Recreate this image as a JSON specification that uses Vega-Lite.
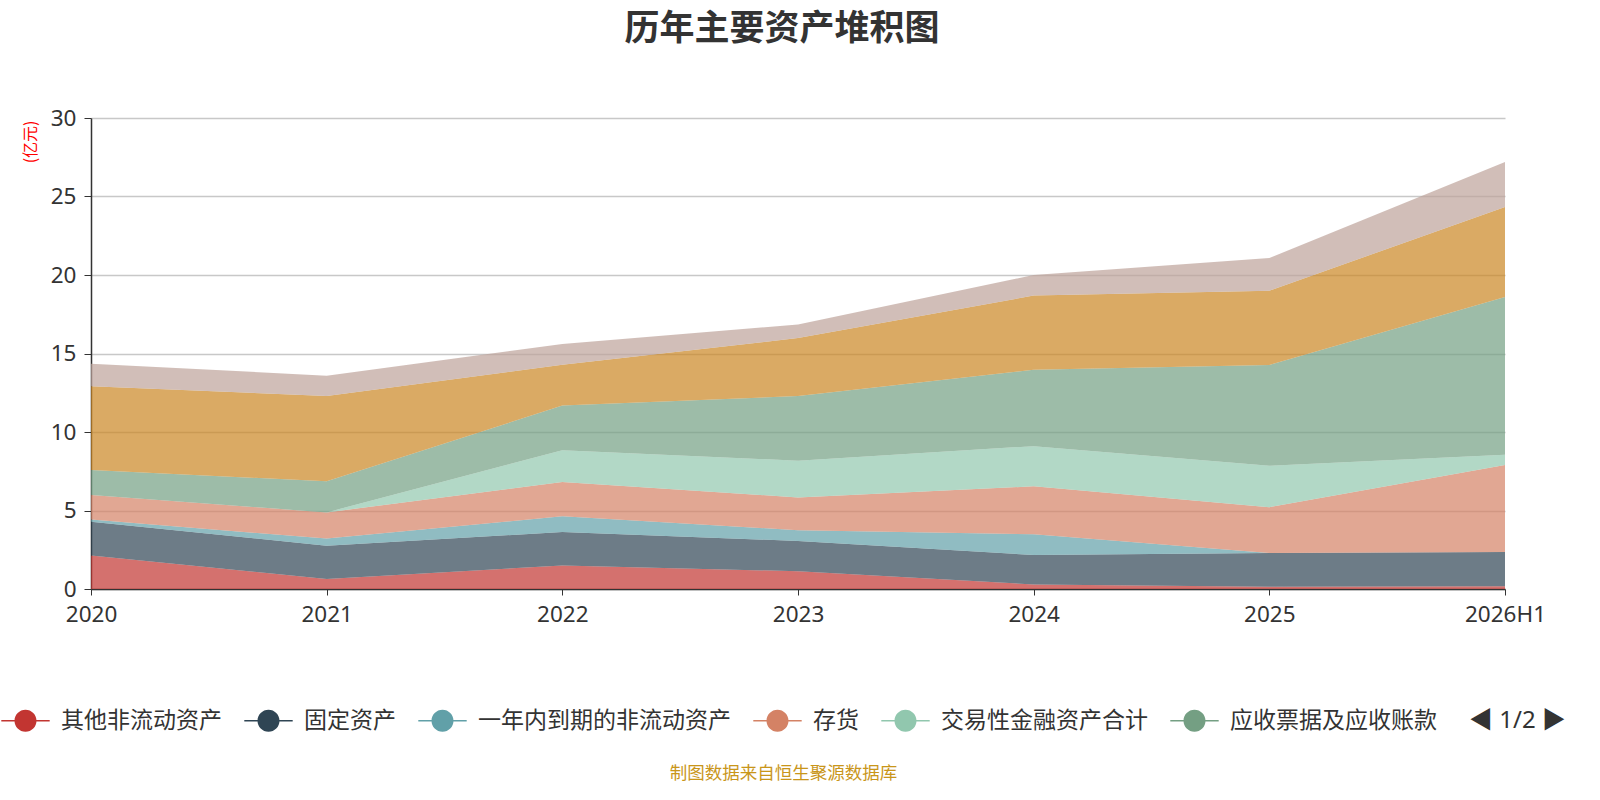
{
  "$schema": "https://vega.github.io/schema/vega-lite/v6.json",
  "width": 1414,
  "height": 471,
  "autosize": {"type": "none"},
  "padding": {"left": 91, "top": 118, "right": 95, "bottom": 211},
  "background": "white",
  "title": {
    "text": "历年主要资产堆积图",
    "anchor": "middle",
    "dx": -16,
    "offset": 60,
    "fontSize": 35,
    "fontWeight": "bold",
    "color": "#333333",
    "font": "Noto Sans CJK SC"
  },
  "config": {
    "font": "Noto Sans, Noto Sans CJK SC",
    "view": {"stroke": null}
  },
  "data": {
    "values": [
      {"year": "2020", "name": "其他非流动资产", "idx": 0, "value": 2.13},
      {"year": "2021", "name": "其他非流动资产", "idx": 0, "value": 0.63},
      {"year": "2022", "name": "其他非流动资产", "idx": 0, "value": 1.5},
      {"year": "2023", "name": "其他非流动资产", "idx": 0, "value": 1.13},
      {"year": "2024", "name": "其他非流动资产", "idx": 0, "value": 0.29},
      {"year": "2025", "name": "其他非流动资产", "idx": 0, "value": 0.15},
      {"year": "2026H1", "name": "其他非流动资产", "idx": 0, "value": 0.17},
      {"year": "2020", "name": "固定资产", "idx": 1, "value": 2.16},
      {"year": "2021", "name": "固定资产", "idx": 1, "value": 2.12},
      {"year": "2022", "name": "固定资产", "idx": 1, "value": 2.13},
      {"year": "2023", "name": "固定资产", "idx": 1, "value": 1.93},
      {"year": "2024", "name": "固定资产", "idx": 1, "value": 1.88},
      {"year": "2025", "name": "固定资产", "idx": 1, "value": 2.14},
      {"year": "2026H1", "name": "固定资产", "idx": 1, "value": 2.18},
      {"year": "2020", "name": "一年内到期的非流动资产", "idx": 2, "value": 0.13},
      {"year": "2021", "name": "一年内到期的非流动资产", "idx": 2, "value": 0.46},
      {"year": "2022", "name": "一年内到期的非流动资产", "idx": 2, "value": 1.0},
      {"year": "2023", "name": "一年内到期的非流动资产", "idx": 2, "value": 0.69},
      {"year": "2024", "name": "一年内到期的非流动资产", "idx": 2, "value": 1.31},
      {"year": "2025", "name": "一年内到期的非流动资产", "idx": 2, "value": 0.0},
      {"year": "2026H1", "name": "一年内到期的非流动资产", "idx": 2, "value": 0.0},
      {"year": "2020", "name": "存货", "idx": 3, "value": 1.56},
      {"year": "2021", "name": "存货", "idx": 3, "value": 1.67},
      {"year": "2022", "name": "存货", "idx": 3, "value": 2.19},
      {"year": "2023", "name": "存货", "idx": 3, "value": 2.08},
      {"year": "2024", "name": "存货", "idx": 3, "value": 3.06},
      {"year": "2025", "name": "存货", "idx": 3, "value": 2.92},
      {"year": "2026H1", "name": "存货", "idx": 3, "value": 5.55},
      {"year": "2020", "name": "交易性金融资产合计", "idx": 4, "value": 0.0},
      {"year": "2021", "name": "交易性金融资产合计", "idx": 4, "value": 0.0},
      {"year": "2022", "name": "交易性金融资产合计", "idx": 4, "value": 2.02},
      {"year": "2023", "name": "交易性金融资产合计", "idx": 4, "value": 2.34},
      {"year": "2024", "name": "交易性金融资产合计", "idx": 4, "value": 2.56},
      {"year": "2025", "name": "交易性金融资产合计", "idx": 4, "value": 2.64},
      {"year": "2026H1", "name": "交易性金融资产合计", "idx": 4, "value": 0.65},
      {"year": "2020", "name": "应收票据及应收账款", "idx": 5, "value": 1.6},
      {"year": "2021", "name": "应收票据及应收账款", "idx": 5, "value": 1.98},
      {"year": "2022", "name": "应收票据及应收账款", "idx": 5, "value": 2.84},
      {"year": "2023", "name": "应收票据及应收账款", "idx": 5, "value": 4.12},
      {"year": "2024", "name": "应收票据及应收账款", "idx": 5, "value": 4.86},
      {"year": "2025", "name": "应收票据及应收账款", "idx": 5, "value": 6.42},
      {"year": "2026H1", "name": "应收票据及应收账款", "idx": 5, "value": 10.05},
      {"year": "2020", "name": "货币资金", "idx": 6, "value": 5.34},
      {"year": "2021", "name": "货币资金", "idx": 6, "value": 5.44},
      {"year": "2022", "name": "货币资金", "idx": 6, "value": 2.6},
      {"year": "2023", "name": "货币资金", "idx": 6, "value": 3.69},
      {"year": "2024", "name": "货币资金", "idx": 6, "value": 4.73},
      {"year": "2025", "name": "货币资金", "idx": 6, "value": 4.73},
      {"year": "2026H1", "name": "货币资金", "idx": 6, "value": 5.73},
      {"year": "2020", "name": "其他", "idx": 7, "value": 1.43},
      {"year": "2021", "name": "其他", "idx": 7, "value": 1.29},
      {"year": "2022", "name": "其他", "idx": 7, "value": 1.33},
      {"year": "2023", "name": "其他", "idx": 7, "value": 0.87},
      {"year": "2024", "name": "其他", "idx": 7, "value": 1.31},
      {"year": "2025", "name": "其他", "idx": 7, "value": 2.08},
      {"year": "2026H1", "name": "其他", "idx": 7, "value": 2.86}
    ]
  },
  "mark": {"type": "area", "opacity": 0.7, "strokeWidth": 0},
  "encoding": {
    "x": {
      "field": "year",
      "type": "ordinal",
      "sort": null,
      "scale": {"type": "point", "padding": 0},
      "axis": {
        "labelAngle": 0,
        "labelFontSize": 22.5,
        "labelColor": "#333333",
        "labelPadding": 8,
        "domainColor": "#333333",
        "domainWidth": 1.5,
        "tickColor": "#333333",
        "tickSize": 6,
        "grid": false,
        "title": "制图数据来自恒生聚源数据库",
        "titleX": 692,
        "titleY": 184,
        "titleAnchor": null,
        "titleAlign": "center",
        "titleBaseline": "middle",
        "titleFontSize": 17.5,
        "titleFontWeight": "normal",
        "titleColor": "#c9961a",
        "titleFont": "Noto Sans CJK SC"
      }
    },
    "y": {
      "field": "value",
      "type": "quantitative",
      "stack": "zero",
      "scale": {"domain": [0, 30]},
      "axis": {
        "values": [0, 5, 10, 15, 20, 25, 30],
        "labelFontSize": 22.5,
        "labelColor": "#333333",
        "labelPadding": 8,
        "domainColor": "#333333",
        "domainWidth": 1.5,
        "tickColor": "#333333",
        "tickSize": 7,
        "gridColor": "#c8c8c8",
        "gridWidth": 1.5,
        "title": "(亿元)",
        "titleColor": "#ff0000",
        "titleFontSize": 16,
        "titleFontWeight": "normal",
        "titleFont": "Noto Sans CJK SC",
        "titleAngle": -90,
        "titleX": -61,
        "titleY": 2,
        "titleAlign": "right",
        "titleBaseline": "middle"
      }
    },
    "color": {
      "field": "name",
      "type": "nominal",
      "scale": {
        "domain": ["其他非流动资产", "固定资产", "一年内到期的非流动资产", "存货", "交易性金融资产合计", "应收票据及应收账款", "货币资金", "其他"],
        "range": ["#c23531", "#2f4554", "#61a0a8", "#d48265", "#91c7ae", "#749f83", "#ca8622", "#bda29a"]
      },
      "legend": {
        "orient": "none",
        "legendX": -77,
        "legendY": 591,
        "direction": "horizontal",
        "columns": 6,
        "values": ["其他非流动资产", "固定资产", "一年内到期的非流动资产", "存货", "交易性金融资产合计", "应收票据及应收账款"],
        "symbolType": "M-2.2,-0.07 L-0.9,-0.07 L-0.9,0.07 L-2.2,0.07 Z M0.9,-0.07 L2.2,-0.07 L2.2,0.07 L0.9,0.07 Z M1,0 A1,1 0 1,1 -1,0 A1,1 0 1,1 1,0 Z",
        "symbolSize": 484,
        "symbolOpacity": 1,
        "symbolStrokeWidth": 0,
        "labelFontSize": 23,
        "labelColor": "#333333",
        "labelFont": "Noto Sans CJK SC",
        "labelOffset": 24,
        "labelLimit": 400,
        "columnPadding": 22,
        "padding": 0,
        "title": "◀  1/2  ▶",
        "titleOrient": "right",
        "titleFontSize": 24,
        "titleFontWeight": "normal",
        "titleColor": "#333333",
        "titlePadding": 32,
        "titleBaseline": "middle"
      }
    },
    "order": {"field": "idx", "type": "quantitative", "sort": "ascending"}
  }
}
